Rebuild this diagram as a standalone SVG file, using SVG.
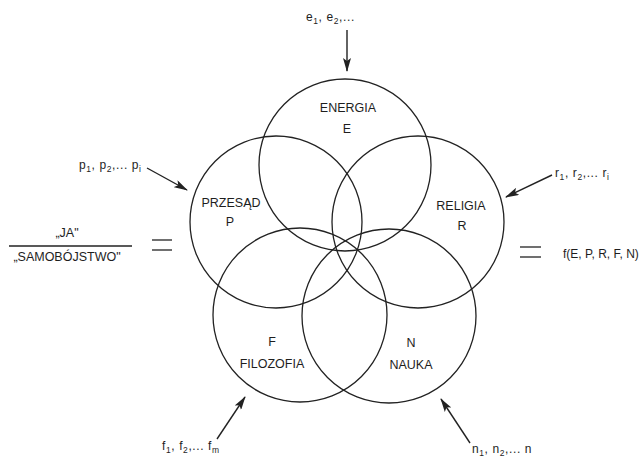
<svg xmlns="http://www.w3.org/2000/svg" width="644" height="457" viewBox="0 0 644 457">
<style>
.c{fill:none;stroke:#222;stroke-width:1.3}
.t{font-family:"Liberation Sans",Arial,sans-serif;font-size:12.5px;fill:#1e1e1e;text-anchor:middle}
.s{font-family:"Liberation Sans",Arial,sans-serif;font-size:12px;letter-spacing:0.6px;fill:#1e1e1e}
.sub{font-size:8.5px}
.ln{stroke:#222;stroke-width:1.3;fill:none}
.ar{stroke:#222;stroke-width:1.4;fill:none;marker-end:url(#ah)}
</style>
<defs>
<marker id="ah" viewBox="0 0 14 8" refX="13" refY="4" markerWidth="14" markerHeight="8" markerUnits="userSpaceOnUse" orient="auto">
<path d="M0,0 L14,4 L0,8 L3,4 Z" fill="#222"/>
</marker>
</defs>
<rect width="644" height="457" fill="#fff"/>
<g id="E"><circle class="c" cx="345" cy="165" r="86"/><text class="t" x="348" y="112">ENERGIA</text><text class="t" x="347" y="133">E</text></g>
<g id="P"><circle class="c" cx="276" cy="222" r="86"/><text class="t" x="231" y="207">PRZESĄD</text><text class="t" x="230" y="226">P</text></g>
<g id="R"><circle class="c" cx="418" cy="222" r="86"/><text class="t" x="461" y="210">RELIGIA</text><text class="t" x="462" y="230">R</text></g>
<g id="F"><circle class="c" cx="300" cy="315" r="87"/><text class="t" x="272" y="346">F</text><text class="t" x="272" y="368">FILOZOFIA</text></g>
<g id="N"><circle class="c" cx="389" cy="316" r="87"/><text class="t" x="411" y="347">N</text><text class="t" x="411" y="369">NAUKA</text></g>
<g id="connectors">
<line class="ar" x1="347" y1="30" x2="347" y2="71"/>
<line class="ar" x1="147" y1="168" x2="187" y2="190"/>
<line class="ar" x1="552" y1="175" x2="506" y2="197"/>
<line class="ar" x1="217" y1="439" x2="245" y2="397"/>
<line class="ar" x1="470" y1="443" x2="441" y2="399"/>
</g>
<g id="labels">
<text class="s" x="306" y="21">e<tspan class="sub" dy="3">1</tspan><tspan dy="-3">, e</tspan><tspan class="sub" dy="3">2</tspan><tspan dy="-3">,...</tspan></text>
<text class="s" x="79" y="169">p<tspan class="sub" dy="3">1</tspan><tspan dy="-3">, p</tspan><tspan class="sub" dy="3">2</tspan><tspan dy="-3">,... p</tspan><tspan class="sub" dy="3">i</tspan></text>
<text class="s" x="555" y="177">r<tspan class="sub" dy="3">1</tspan><tspan dy="-3">, r</tspan><tspan class="sub" dy="3">2</tspan><tspan dy="-3">,... r</tspan><tspan class="sub" dy="3">i</tspan></text>
<text class="s" x="162" y="450">f<tspan class="sub" dy="3">1</tspan><tspan dy="-3">, f</tspan><tspan class="sub" dy="3">2</tspan><tspan dy="-3">,... f</tspan><tspan class="sub" dy="3">m</tspan></text>
<text class="s" x="472" y="453">n<tspan class="sub" dy="3">1</tspan><tspan dy="-3">, n</tspan><tspan class="sub" dy="3">2</tspan><tspan dy="-3">,... n</tspan></text>
<text class="t" x="67" y="237">„JA"</text>
<line class="ln" x1="9" y1="246" x2="132" y2="246"/>
<text class="t" x="67" y="261">„SAMOBÓJSTWO"</text>
<line class="ln" x1="152" y1="240" x2="172" y2="240"/>
<line class="ln" x1="152" y1="250" x2="172" y2="250"/>
<line class="ln" x1="520" y1="247" x2="541" y2="247"/>
<line class="ln" x1="520" y1="257" x2="541" y2="257"/>
<text class="s" x="563" y="258" style="letter-spacing:0">f(E, P, R, F, N)</text>
</g>
</svg>
